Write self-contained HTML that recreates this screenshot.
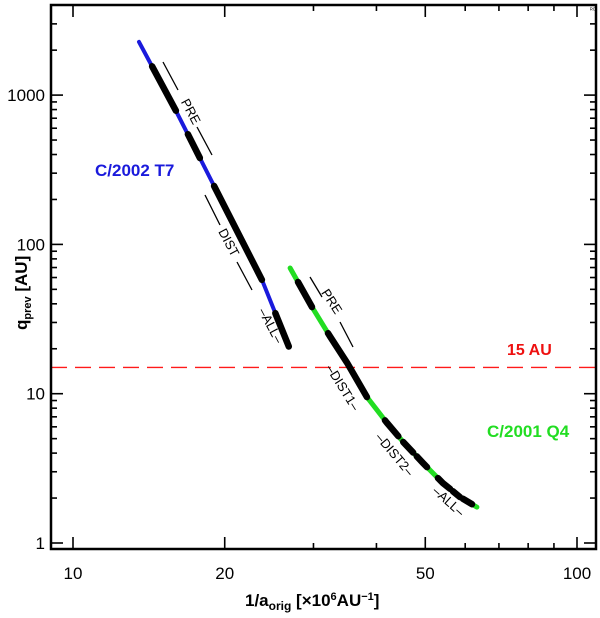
<!DOCTYPE html>
<html><head><meta charset="utf-8">
<style>
html,body{margin:0;padding:0;background:#fff;}
svg{display:block;}
text{font-family:"Liberation Sans",sans-serif;}
</style></head>
<body>
<svg id="chart" width="600" height="618" viewBox="0 0 600 618" xmlns="http://www.w3.org/2000/svg">
  <g id="marks"></g>
  <rect x="51" y="5" width="545" height="544" fill="none" stroke="#000" stroke-width="2.5"/>
  <g id="ticks"></g>
  <text x="95" y="176" fill="#1a1adc" font-size="17" font-weight="bold">C/2002 T7</text>
  <text x="507" y="355" fill="#ee1010" font-size="16" font-weight="bold">15 AU</text>
  <text x="487" y="437" fill="#22dd22" font-size="17" font-weight="bold">C/2001 Q4</text>
  <text x="590" y="12" font-size="6">ᴿᴼ</text>
  <text x="245" y="606" font-family="Liberation Serif,serif" font-size="17" font-weight="bold">1/a<tspan font-size="12" dy="4">orig</tspan><tspan dy="-4"> [×10</tspan><tspan font-size="11" dy="-6">6</tspan><tspan dy="6">AU</tspan><tspan font-size="11" dy="-6">−1</tspan><tspan dy="6">]</tspan></text>
  <text transform="translate(27,330) rotate(-90)" font-size="17" font-weight="bold">q<tspan font-size="11" dy="4">prev</tspan><tspan dy="-4"> [AU]</tspan></text>
</svg>
<script>
const blueX=[13.52,16.01,17.86,19.05,23.71,26.83];
const blueY=[2270,783,379,246,57.8,20.5];
const blueBlack=[[14.35,16.0],[16.9,17.86],[19.05,23.7],[25.2,26.8]];
const greenX=[26.96,29.8,32.4,34.98,38.3,41.98,45.2,49.5,54.2,58.6,63.3];
const greenY=[69.5,38.1,24.0,16.1,9.5,6.37,4.75,3.43,2.52,2.03,1.74];
const greenBlack=[[27.95,29.8],[32.06,38.3],[41.6,44.2],[45.2,47.3],[48.1,50.4],[53.0,56.0],[56.7,58.6],[59.4,61.9]];
const refLine=15;
const xMajor=[10,20,50,100];
const xMinor=[30,40,60,70,80,90];
const yMajor=[1,10,100,1000];
const yMinor=[2,3,4,5,6,7,8,9,20,30,40,50,60,70,80,90,200,300,400,500,600,700,800,900,2000,3000];
const NS='http://www.w3.org/2000/svg';
function sx(v){return 73+504*Math.log10(v/10);}
function sy(v){return 543-149.3*Math.log10(v);}
function mk(tag,attrs,parent){const e=document.createElementNS(NS,tag);for(const k in attrs)e.setAttribute(k,attrs[k]);parent.appendChild(e);return e;}
const marks=document.getElementById('marks');
const ticks=document.getElementById('ticks');
function interpY(xs,ys,x){for(let i=0;i<xs.length-1;i++){if(x>=xs[i]&&x<=xs[i+1]){const t=(Math.log(x)-Math.log(xs[i]))/(Math.log(xs[i+1])-Math.log(xs[i]));return Math.exp(Math.log(ys[i])+t*(Math.log(ys[i+1])-Math.log(ys[i])));}}return ys[ys.length-1];}
function pathFor(xs,ys){return xs.map((x,i)=>(i?'L':'M')+sx(x).toFixed(1)+','+sy(ys[i]).toFixed(1)).join(' ');}
function segPath(xs,ys,a,b){let pts=[a];xs.forEach(x=>{if(x>a&&x<b)pts.push(x);});pts.push(b);return pts.map((x,i)=>(i?'L':'M')+sx(x).toFixed(1)+','+sy(interpY(xs,ys,x)).toFixed(1)).join(' ');}
let rl=mk('line',{x1:51,x2:596,y1:sy(refLine),y2:sy(refLine),stroke:'#ff1a1a','stroke-width':1.4,'stroke-dasharray':'16,8'},marks);


let bl=mk('path',{d:pathFor(blueX,blueY),fill:'none',stroke:'#1a1adc','stroke-width':4,'stroke-linecap':'round'},marks);


blueBlack.forEach(s=>{const p=mk('path',{d:segPath(blueX,blueY,s[0],s[1]),fill:'none',stroke:'#000','stroke-width':6.5,'stroke-linecap':'round'},marks);

});
let gl=mk('path',{d:pathFor(greenX,greenY),fill:'none',stroke:'#22dd22','stroke-width':5,'stroke-linecap':'round'},marks);


greenBlack.forEach(s=>{const p=mk('path',{d:segPath(greenX,greenY,s[0],s[1]),fill:'none',stroke:'#000','stroke-width':6.5,'stroke-linecap':'round'},marks);

});
const ann=[['PRE',190,112,62,[[163,62,178,90],[197,127,212,155]]],['DIST',228,243,62,[[205,195,220,225],[237,262,252,290]]],['–ALL–',270,326,62,[]],['PRE',331,302,57,[[310,277,322,297],[340,322,353,347]]],['–DIST1–',342,388,58,[]],['–DIST2–',394,455,50,[]],['–ALL–',448,502,42,[]]];
ann.forEach(a=>{const t=mk('text',{x:a[1],y:a[2],'font-size':13,'text-anchor':'middle','dominant-baseline':'middle',transform:`rotate(${a[3]} ${a[1]} ${a[2]})`},marks);t.textContent=a[0];


a[4].forEach(l=>{const ln=mk('line',{x1:l[0],y1:l[1],x2:l[2],y2:l[3],stroke:'#000','stroke-width':1.3},marks);

});});
xMajor.forEach(v=>{const x=sx(v);mk('line',{x1:x,x2:x,y1:549,y2:537,stroke:'#000','stroke-width':1.6},ticks);mk('line',{x1:x,x2:x,y1:5,y2:17,stroke:'#000','stroke-width':1.6},ticks);
const t=mk('text',{x:x,y:579,'font-size':17,'text-anchor':'middle'},ticks);t.textContent=v;

});
xMinor.forEach(v=>{const x=sx(v);mk('line',{x1:x,x2:x,y1:549,y2:543,stroke:'#000','stroke-width':1.6},ticks);mk('line',{x1:x,x2:x,y1:5,y2:11,stroke:'#000','stroke-width':1.6},ticks);});
yMajor.forEach(v=>{const y=sy(v);mk('line',{x1:51,x2:63,y1:y,y2:y,stroke:'#000','stroke-width':1.6},ticks);mk('line',{x1:596,x2:584,y1:y,y2:y,stroke:'#000','stroke-width':1.6},ticks);
const t=mk('text',{x:45,y:y+6,'font-size':17,'text-anchor':'end'},ticks);t.textContent=v;

});
yMinor.forEach(v=>{const y=sy(v);if(y<5)return;mk('line',{x1:51,x2:57,y1:y,y2:y,stroke:'#000','stroke-width':1.6},ticks);mk('line',{x1:596,x2:590,y1:y,y2:y,stroke:'#000','stroke-width':1.6},ticks);});
</script>
</body></html>
